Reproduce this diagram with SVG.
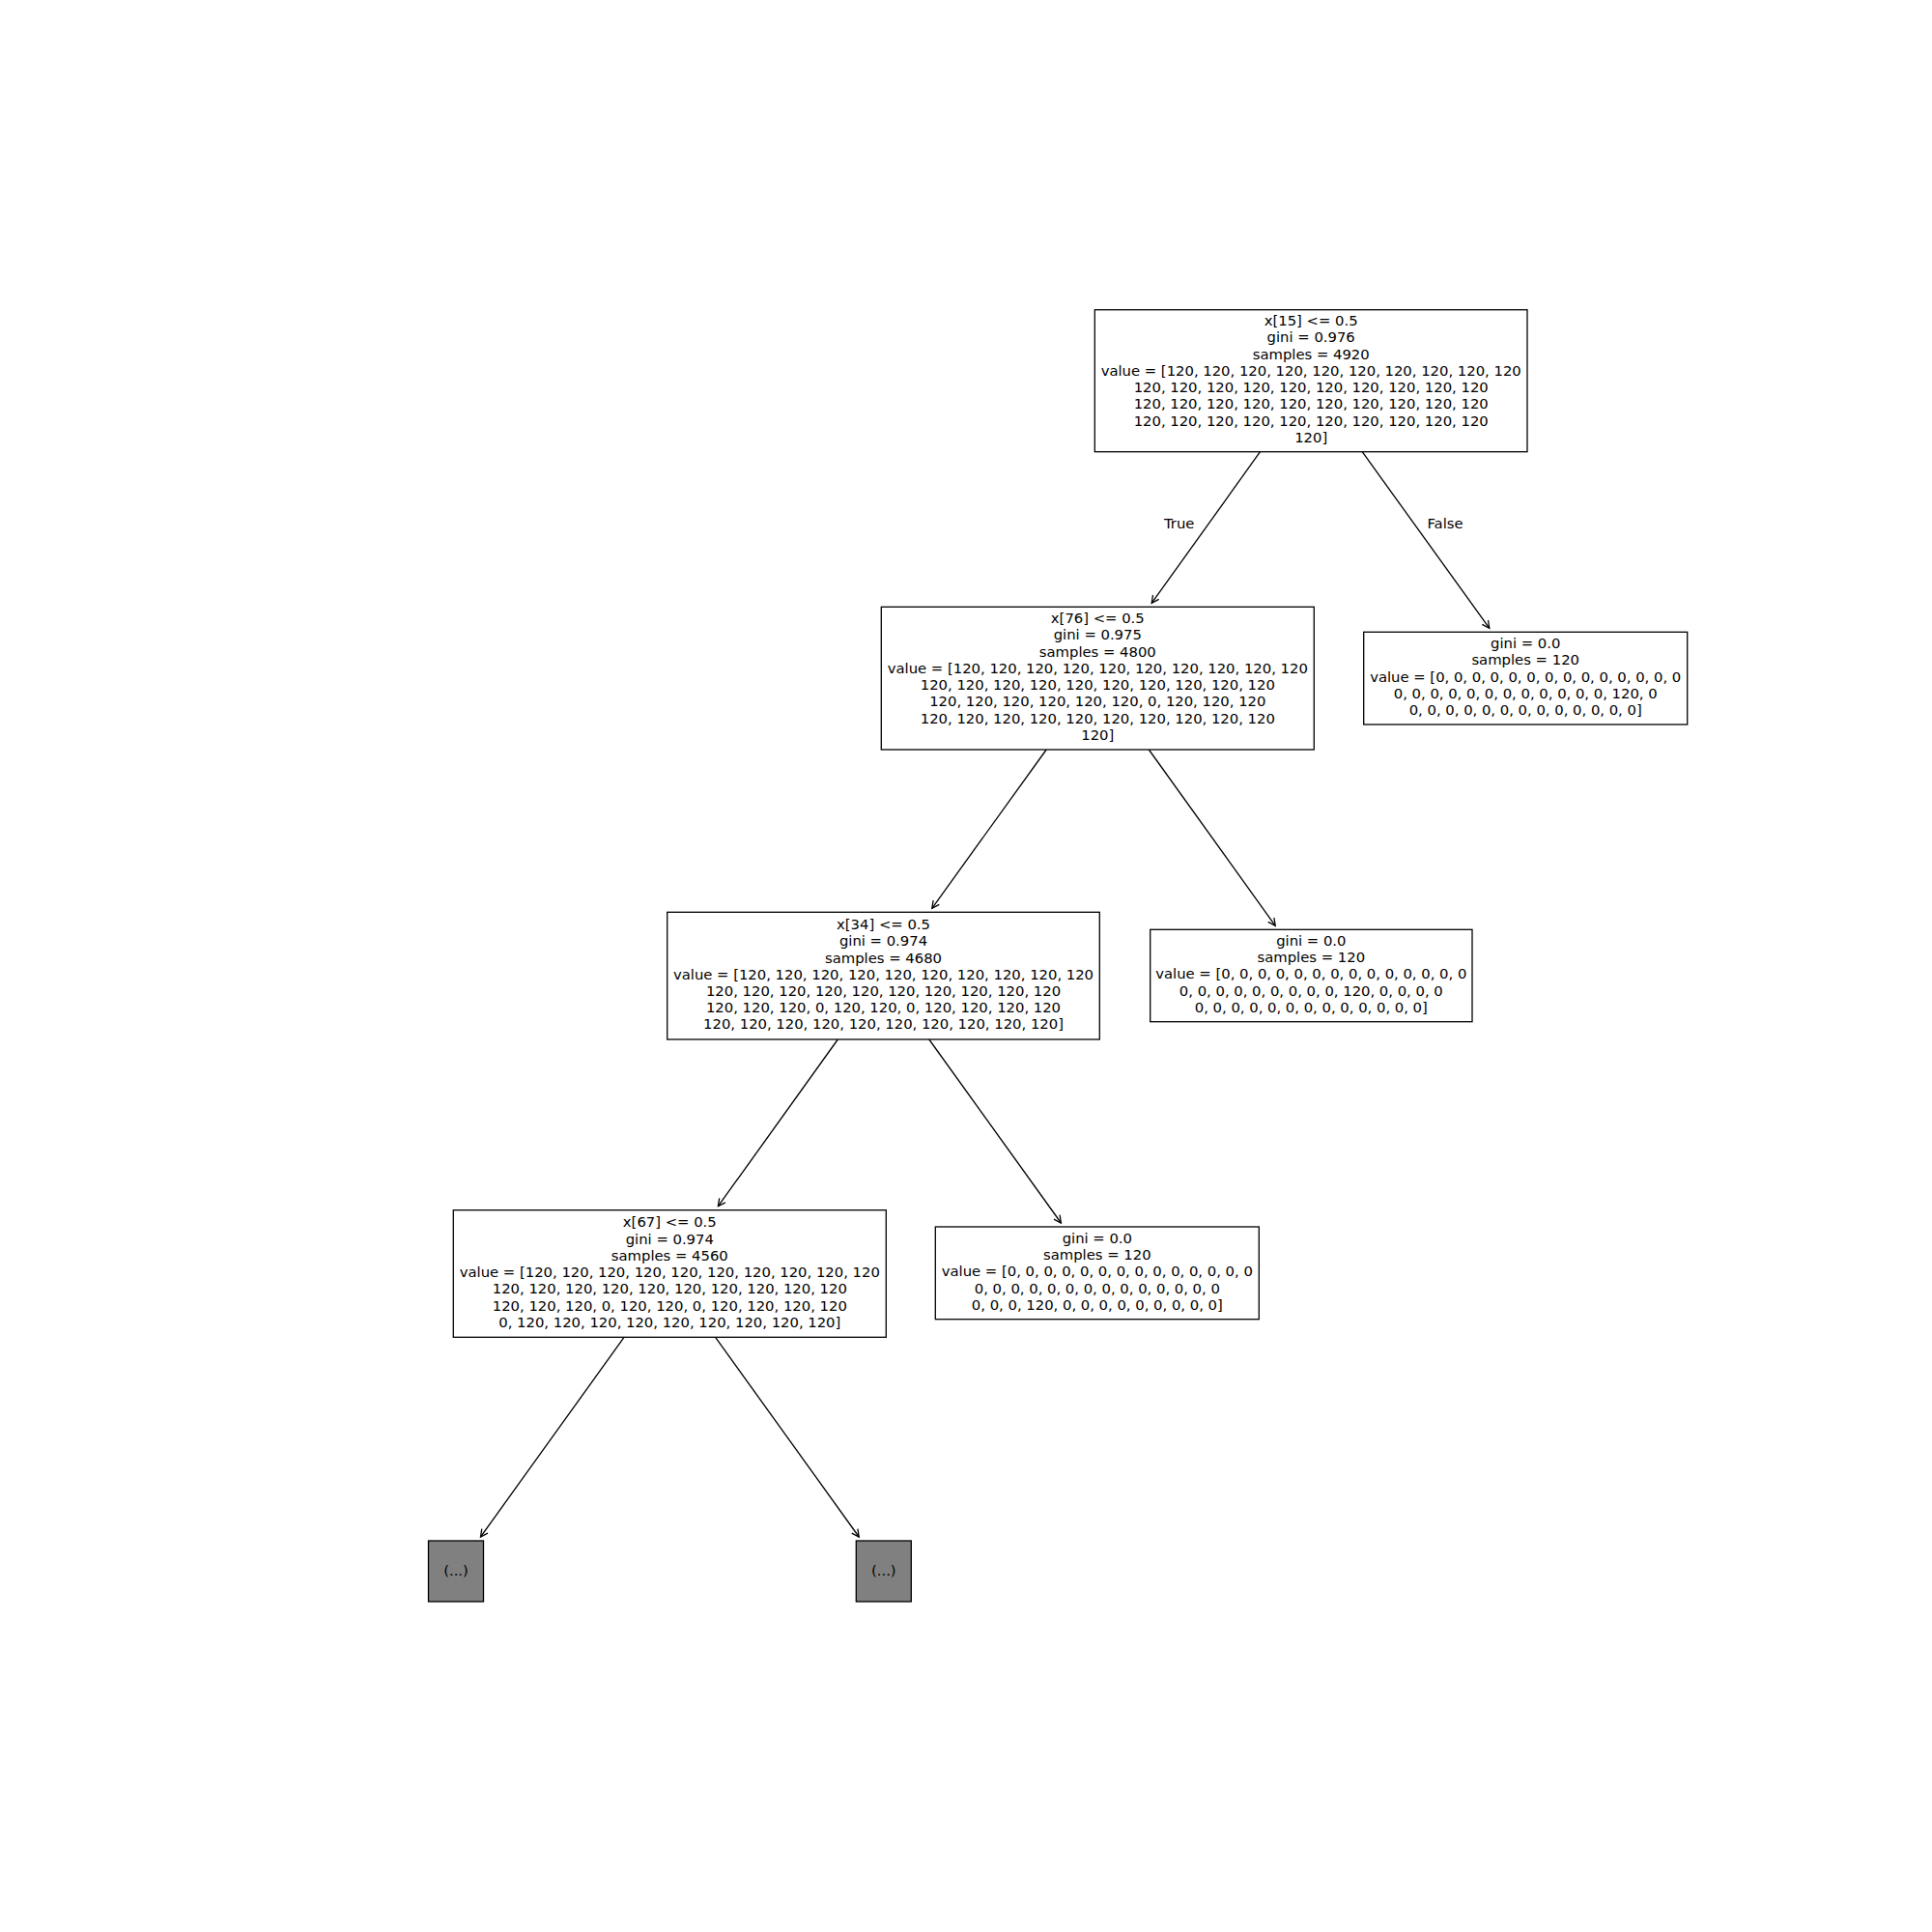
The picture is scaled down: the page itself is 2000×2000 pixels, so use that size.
<svg xmlns="http://www.w3.org/2000/svg" width="2000" height="2000" viewBox="0 0 2000 2000">
<style>
  text { font-family: "DejaVu Sans", "Liberation Sans", sans-serif; font-size: 14.8px; fill: #000; text-anchor: middle; }
  .box { fill: #ffffff; stroke: #000; stroke-width: 1.3; }
  .gray { fill: #808080; stroke: #000; stroke-width: 1.3; }
  .edge { stroke: #000; stroke-width: 1.3; fill: none; marker-end: url(#arr); }
</style>
<defs>
  <marker id="arr" markerUnits="userSpaceOnUse" markerWidth="20" markerHeight="20" viewBox="-10 -10 20 20" refX="0" refY="0" orient="auto">
    <path d="M -7.5,-3.8 L 0,0 L -7.5,3.8" fill="none" stroke="#000" stroke-width="1.3"/>
  </marker>
</defs>
<rect x="0" y="0" width="2000" height="2000" fill="#ffffff"/>

<g id="connectors">
  <line class="edge" x1="1304.5" y1="467.7" x2="1192.2" y2="624.3"/>
  <line class="edge" x1="1410.2" y1="467.7" x2="1541.8" y2="650.3"/>
  <line class="edge" x1="1083.2" y1="776" x2="964.8" y2="940.3"/>
  <line class="edge" x1="1189.3" y1="776" x2="1320.2" y2="958.3"/>
  <line class="edge" x1="867.3" y1="1076" x2="743.4" y2="1248.7"/>
  <line class="edge" x1="961.8" y1="1076" x2="1098.4" y2="1266"/>
  <line class="edge" x1="646.0" y1="1384.3" x2="497.5" y2="1591"/>
  <line class="edge" x1="740.6" y1="1384.3" x2="889.2" y2="1591"/>
  <text x="1220.7" y="547.3">True</text>
  <text x="1496" y="547.3">False</text>
</g>

<g id="node-root">
  <rect class="box" x="1133.3" y="320.7" width="447.7" height="147"/>
  <text x="1357.2" y="337.2">x[15] &lt;= 0.5</text>
  <text x="1357.2" y="354.4">gini = 0.976</text>
  <text x="1357.2" y="371.7">samples = 4920</text>
  <text x="1357.2" y="388.9">value = [120, 120, 120, 120, 120, 120, 120, 120, 120, 120</text>
  <text x="1357.2" y="406.1">120, 120, 120, 120, 120, 120, 120, 120, 120, 120</text>
  <text x="1357.2" y="423.4">120, 120, 120, 120, 120, 120, 120, 120, 120, 120</text>
  <text x="1357.2" y="440.6">120, 120, 120, 120, 120, 120, 120, 120, 120, 120</text>
  <text x="1357.2" y="457.9">120]</text>
</g>

<g id="node-x76">
  <rect class="box" x="912.3" y="628.3" width="448" height="147.7"/>
  <text x="1136.3" y="645.2">x[76] &lt;= 0.5</text>
  <text x="1136.3" y="662.4">gini = 0.975</text>
  <text x="1136.3" y="679.7">samples = 4800</text>
  <text x="1136.3" y="696.9">value = [120, 120, 120, 120, 120, 120, 120, 120, 120, 120</text>
  <text x="1136.3" y="714.1">120, 120, 120, 120, 120, 120, 120, 120, 120, 120</text>
  <text x="1136.3" y="731.4">120, 120, 120, 120, 120, 120, 0, 120, 120, 120</text>
  <text x="1136.3" y="748.6">120, 120, 120, 120, 120, 120, 120, 120, 120, 120</text>
  <text x="1136.3" y="765.9">120]</text>
</g>

<g id="leaf-1">
  <rect class="box" x="1411.7" y="654.3" width="335" height="95.7"/>
  <text x="1579.2" y="671.0">gini = 0.0</text>
  <text x="1579.2" y="688.2">samples = 120</text>
  <text x="1579.2" y="705.5">value = [0, 0, 0, 0, 0, 0, 0, 0, 0, 0, 0, 0, 0, 0</text>
  <text x="1579.2" y="722.7">0, 0, 0, 0, 0, 0, 0, 0, 0, 0, 0, 0, 120, 0</text>
  <text x="1579.2" y="740.0">0, 0, 0, 0, 0, 0, 0, 0, 0, 0, 0, 0, 0]</text>
</g>

<g id="node-x34">
  <rect class="box" x="690.7" y="944.3" width="447.6" height="131.7"/>
  <text x="914.5" y="962.0">x[34] &lt;= 0.5</text>
  <text x="914.5" y="979.2">gini = 0.974</text>
  <text x="914.5" y="996.5">samples = 4680</text>
  <text x="914.5" y="1013.7">value = [120, 120, 120, 120, 120, 120, 120, 120, 120, 120</text>
  <text x="914.5" y="1030.9">120, 120, 120, 120, 120, 120, 120, 120, 120, 120</text>
  <text x="914.5" y="1048.2">120, 120, 120, 0, 120, 120, 0, 120, 120, 120, 120</text>
  <text x="914.5" y="1065.4">120, 120, 120, 120, 120, 120, 120, 120, 120, 120]</text>
</g>

<g id="leaf-2">
  <rect class="box" x="1190.7" y="962.3" width="333.3" height="95.4"/>
  <text x="1357.3" y="978.8">gini = 0.0</text>
  <text x="1357.3" y="996.0">samples = 120</text>
  <text x="1357.3" y="1013.3">value = [0, 0, 0, 0, 0, 0, 0, 0, 0, 0, 0, 0, 0, 0</text>
  <text x="1357.3" y="1030.5">0, 0, 0, 0, 0, 0, 0, 0, 0, 120, 0, 0, 0, 0</text>
  <text x="1357.3" y="1047.8">0, 0, 0, 0, 0, 0, 0, 0, 0, 0, 0, 0, 0]</text>
</g>

<g id="node-x67">
  <rect class="box" x="469.3" y="1252.7" width="448" height="131.6"/>
  <text x="693.3" y="1270.3">x[67] &lt;= 0.5</text>
  <text x="693.3" y="1287.5">gini = 0.974</text>
  <text x="693.3" y="1304.8">samples = 4560</text>
  <text x="693.3" y="1322.0">value = [120, 120, 120, 120, 120, 120, 120, 120, 120, 120</text>
  <text x="693.3" y="1339.2">120, 120, 120, 120, 120, 120, 120, 120, 120, 120</text>
  <text x="693.3" y="1356.5">120, 120, 120, 0, 120, 120, 0, 120, 120, 120, 120</text>
  <text x="693.3" y="1373.7">0, 120, 120, 120, 120, 120, 120, 120, 120, 120]</text>
</g>

<g id="leaf-3">
  <rect class="box" x="968.3" y="1270" width="335" height="95.7"/>
  <text x="1135.8" y="1286.8">gini = 0.0</text>
  <text x="1135.8" y="1304.0">samples = 120</text>
  <text x="1135.8" y="1321.3">value = [0, 0, 0, 0, 0, 0, 0, 0, 0, 0, 0, 0, 0, 0</text>
  <text x="1135.8" y="1338.5">0, 0, 0, 0, 0, 0, 0, 0, 0, 0, 0, 0, 0, 0</text>
  <text x="1135.8" y="1355.8">0, 0, 0, 120, 0, 0, 0, 0, 0, 0, 0, 0, 0]</text>
</g>

<g id="trunc-1">
  <rect class="gray" x="443.5" y="1595" width="57" height="63"/>
  <text x="472" y="1631.3">(...)</text>
</g>

<g id="trunc-2">
  <rect class="gray" x="886.3" y="1595" width="57" height="63"/>
  <text x="914.8" y="1631.3">(...)</text>
</g>
</svg>
